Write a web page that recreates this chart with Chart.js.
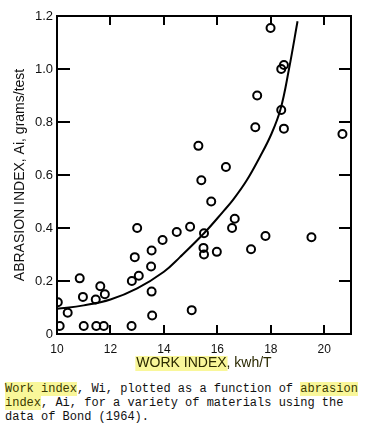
<!DOCTYPE html>
<html>
<head>
<meta charset="utf-8">
<script src="https://cdn.jsdelivr.net/npm/chart.js@4"></script>
<style>
  html, body { margin: 0; padding: 0; background: #fff; }
  #wrap { position: relative; width: 392px; height: 436px; overflow: hidden; }
  #c { position: absolute; left: 0; top: 0; }
  #cap { position: absolute; left: 5px; top: 382px; font: 12px "Liberation Mono", monospace; line-height: 14px; white-space: pre; color: #111; }
  .hl { background: #f9f79a; color: #3a3800; }
</style>
</head>
<body>
<div id="wrap">
  <canvas id="c" width="392" height="376"></canvas>
  <div id="cap"><span class="hl">Work index</span>, Wi, plotted as a function of <span class="hl">abrasion</span>
<span class="hl">index</span>, Ai, for a variety of materials using the
data of Bond (1964).</div>
</div>
<script>
// ---- data ----
const workIndex = [10.03, 10.1, 10.4, 10.85, 10.97, 11.0, 11.45, 11.47, 11.62, 11.79, 11.75,
  12.79, 12.8, 13.06, 12.91, 13.0, 13.56, 13.54, 13.52, 13.54, 13.95, 14.48, 14.98, 15.04,
  15.5, 15.48, 15.5, 15.98, 15.77, 15.4, 15.29, 16.32, 16.55, 16.65, 17.26, 17.8, 19.52,
  17.42, 17.49, 17.99, 18.49, 18.39, 18.39, 18.49, 20.68];
const abrasionIndex = [0.12, 0.03, 0.08, 0.21, 0.14, 0.03, 0.13, 0.03, 0.18, 0.15, 0.03,
  0.03, 0.20, 0.22, 0.29, 0.40, 0.07, 0.16, 0.255, 0.315, 0.355, 0.385, 0.405, 0.09,
  0.38, 0.325, 0.30, 0.31, 0.50, 0.58, 0.71, 0.63, 0.40, 0.435, 0.32, 0.37, 0.365,
  0.78, 0.90, 1.155, 1.015, 1.0, 0.845, 0.775, 0.755];
const curveX = [10, 11, 12, 13, 14, 14.6, 15.5, 16.2, 16.6, 17.1, 17.6, 18.0, 18.36, 18.68, 19.0];
const curveY = [0.095, 0.108, 0.13, 0.172, 0.235, 0.29, 0.38, 0.46, 0.508, 0.58, 0.67, 0.75, 0.847, 1.0, 1.18];
const xTicks = [10, 12, 14, 16, 18, 20];
const xTickLabels = ['10', '12', '14', '16', '18', '20'];
const yTicks = [0, 0.2, 0.4, 0.6, 0.8, 1.0, 1.2];
const yTickLabels = ['0', '0.2', '0.4', '0.6', '0.8', '1.0', '1.2'];
const xTitle = 'WORK INDEX, kwh/T';
const xTitleHighlight = 'WORK INDEX';
const yTitle = 'ABRASION INDEX, Ai, grams/test';

// ---- chart ----
const CANVAS_H = 376;
const PLOT_LEFT = 57, PLOT_RIGHT = 351, PLOT_TOP = 16, PLOT_BOTTOM = 334;
const titleFont = { family: 'Liberation Sans', size: 14 };
const tickFontY = { family: 'Liberation Sans', size: 13 };
const tickFontX = { family: 'Liberation Sans', size: 12 };

const inwardTicks = {
  id: 'inwardTicks',
  beforeDraw(chart) {
    const ctx = chart.ctx;
    const xs = chart.scales.x;
    ctx.save();
    ctx.font = '14px "Liberation Sans"';
    const total = ctx.measureText(xTitle).width;
    const hw = ctx.measureText(xTitleHighlight).width;
    const cx = (xs.left + xs.right) / 2;
    ctx.fillStyle = '#f9f79a';
    ctx.fillRect(cx - total / 2 - 1, 356, hw + 2, 15);
    ctx.restore();
  },
  afterDraw(chart) {
    const ctx = chart.ctx;
    const xs = chart.scales.x, ys = chart.scales.y;
    const a = chart.chartArea;
    ctx.save();
    ctx.strokeStyle = '#000';
    ctx.lineWidth = 2;
    ctx.beginPath();
    xTicks.forEach(v => {
      if (v <= xs.min || v >= xs.max) return;
      const p = Math.round(xs.getPixelForValue(v));
      ctx.moveTo(p, a.bottom); ctx.lineTo(p, a.bottom - 9);
      ctx.moveTo(p, a.top); ctx.lineTo(p, a.top + 9);
    });
    yTicks.forEach(v => {
      if (v <= ys.min || v >= ys.max) return;
      const p = Math.round(ys.getPixelForValue(v));
      ctx.moveTo(a.left, p); ctx.lineTo(a.left + 13, p);
      ctx.moveTo(a.right, p); ctx.lineTo(a.right - 12, p);
    });
    ctx.stroke();
    ctx.restore();
  }
};

new Chart(document.getElementById('c'), {
  type: 'scatter',
  data: {
    datasets: [
      {
        label: 'Bond (1964)',
        data: workIndex.map((x, i) => ({ x: x, y: abrasionIndex[i] })),
        pointStyle: 'circle',
        pointRadius: 4,
        pointBorderWidth: 2,
        borderColor: '#000',
        backgroundColor: 'rgba(0,0,0,0)',
        showLine: false
      },
      {
        label: 'fit',
        data: curveX.map((x, i) => ({ x: x, y: curveY[i] })),
        showLine: true,
        borderColor: '#000',
        borderWidth: 2,
        pointRadius: 0,
        tension: 0.4,
        fill: false
      }
    ]
  },
  options: {
    responsive: false,
    animation: false,
    events: [],
    layout: { padding: { left: 0, top: PLOT_TOP, right: 392 - PLOT_RIGHT, bottom: 0 } },
    plugins: { legend: { display: false }, tooltip: { enabled: false } },
    scales: {
      x: {
        type: 'linear', position: 'bottom', min: 10, max: 21,
        afterBuildTicks: s => { s.ticks = xTicks.map(v => ({ value: v })); },
        afterFit: s => { s.height = CANVAS_H - PLOT_BOTTOM; },
        grid: { display: false, drawTicks: false },
        border: { display: true, color: '#000', width: 2 },
        ticks: {
          color: '#111', font: tickFontX, padding: 8, maxRotation: 0, autoSkip: false,
          callback: (v) => { const i = xTicks.indexOf(v); return i >= 0 ? xTickLabels[i] : ''; }
        },
        title: { display: true, text: xTitle, color: '#2a2800', font: titleFont, padding: { top: 0, bottom: 4 } }
      },
      x2: {
        type: 'linear', position: 'top', min: 10, max: 21,
        afterFit: s => { s.height = 0; },
        grid: { display: false, drawTicks: false },
        border: { display: true, color: '#000', width: 2 },
        ticks: { display: false }
      },
      y: {
        type: 'linear', position: 'left', min: 0, max: 1.2,
        afterBuildTicks: s => { s.ticks = yTicks.map(v => ({ value: v })); },
        afterFit: s => { s.width = PLOT_LEFT; },
        grid: { display: false, drawTicks: false },
        border: { display: true, color: '#000', width: 2 },
        ticks: {
          color: '#111', font: tickFontY, padding: 4, autoSkip: false,
          callback: (v) => { const i = yTicks.findIndex(t => Math.abs(t - v) < 1e-9); return i >= 0 ? yTickLabels[i] : ''; }
        },
        title: { display: true, text: yTitle, color: '#111', font: titleFont, padding: { top: 12, bottom: 0 } }
      },
      y2: {
        type: 'linear', position: 'right', min: 0, max: 1.2,
        afterFit: s => { s.width = 0; },
        grid: { display: false, drawTicks: false },
        border: { display: true, color: '#000', width: 2 },
        ticks: { display: false }
      }
    }
  },
  plugins: [inwardTicks]
});
</script>
</body>
</html>
